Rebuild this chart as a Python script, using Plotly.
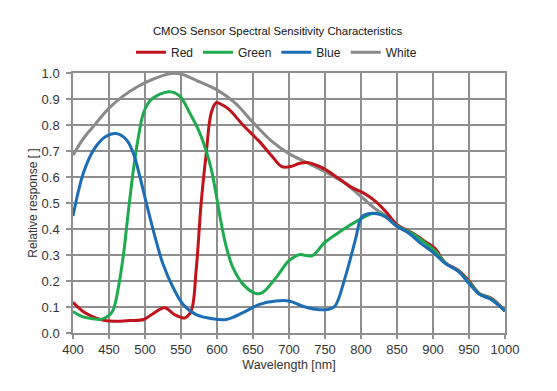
import plotly.graph_objects as go

# ---- data ----
red_wl = [400, 414, 428, 438, 456, 480, 498, 511, 527, 541, 555, 564, 571, 578, 585, 592, 599, 604, 617,
          636, 659, 677, 690, 702, 714, 727, 748, 769, 787, 805, 821, 835, 850, 871, 890, 903, 917, 936,
          950, 965, 980, 1000]
red_v = [0.118, 0.083, 0.062, 0.052, 0.045, 0.048, 0.052, 0.074, 0.097, 0.071, 0.058, 0.084, 0.24, 0.50, 0.69,
         0.847, 0.886, 0.882, 0.859, 0.80, 0.736, 0.678, 0.64, 0.64, 0.652, 0.655, 0.633, 0.594, 0.56, 0.536,
         0.504, 0.465, 0.417, 0.385, 0.35, 0.325, 0.27, 0.24, 0.20, 0.15, 0.135, 0.085]

green_wl = [400, 414, 428, 438, 450, 456, 463, 470, 477, 484, 491, 498, 507, 518, 534, 548, 562, 576, 585,
            592, 599, 606, 613, 622, 636, 654, 663, 682, 700, 714, 732, 750, 773, 796, 815, 829, 850, 871,
            890, 903, 917, 936, 950, 965, 980, 1000]
green_v = [0.083, 0.062, 0.055, 0.052, 0.068, 0.09, 0.175, 0.30, 0.47, 0.63, 0.757, 0.847, 0.893, 0.915, 0.928,
           0.912, 0.847, 0.77, 0.70, 0.63, 0.53, 0.42, 0.33, 0.252, 0.188, 0.152, 0.155, 0.213, 0.278, 0.301,
           0.297, 0.349, 0.394, 0.433, 0.459, 0.455, 0.412, 0.383, 0.345, 0.315, 0.27, 0.237, 0.195, 0.15,
           0.133, 0.085]

blue_wl = [400, 415, 430, 445, 460, 474, 484, 493, 502, 514, 525, 539, 553, 571, 594, 613, 636, 659, 682,
           700, 718, 737, 755, 764, 778, 792, 801, 810, 822, 834, 850, 866, 883, 900, 917, 936, 950, 965, 980,
           1000]
blue_v = [0.45, 0.62, 0.71, 0.755, 0.767, 0.744, 0.69, 0.60, 0.498, 0.369, 0.265, 0.175, 0.11, 0.071,
          0.055, 0.052, 0.078, 0.11, 0.123, 0.123, 0.104, 0.091, 0.091, 0.104, 0.214, 0.356, 0.446, 0.459,
          0.459, 0.447, 0.41, 0.385, 0.345, 0.31, 0.268, 0.235, 0.19, 0.148, 0.13, 0.085]

white_wl = [400, 415, 430, 450, 470, 490, 510, 536, 550, 575, 600, 625, 650, 675, 700, 725,
            750, 778, 801, 821, 835, 850, 871, 890, 903, 917, 936, 950, 965, 980, 1000]
white_v = [0.684, 0.75, 0.80, 0.865, 0.912, 0.948, 0.975, 0.998, 0.996, 0.967, 0.935, 0.885, 0.81, 0.74,
           0.69, 0.655, 0.62, 0.575, 0.523, 0.475, 0.45, 0.415, 0.383, 0.345, 0.315, 0.27, 0.237, 0.195,
           0.15, 0.132, 0.085]

x_ticks = [400, 450, 500, 550, 600, 650, 700, 750, 800, 850, 900, 950, 1000]
y_ticks = [0.0, 0.1, 0.2, 0.3, 0.4, 0.5, 0.6, 0.7, 0.8, 0.9, 1.0]

series = [
    ("White", white_wl, white_v, "#8A8A8A", 4),
    ("Red", red_wl, red_v, "#C0141C", 1),
    ("Green", green_wl, green_v, "#1EAA4E", 2),
    ("Blue", blue_wl, blue_v, "#1C6DB5", 3),
]

fig = go.Figure()
for name, xs, ys, col, rank in series:
    fig.add_trace(go.Scatter(x=xs, y=ys, name=name, mode="lines", legendrank=rank,
                             line=dict(color=col, width=3, shape="spline", smoothing=1.0)))

# page body adds an 8px offset, so the figure is 8px smaller and margins shifted accordingly
W, H = 549, 383
grid = "#8f8f8f"
fig.update_layout(
    width=W, height=H,
    margin=dict(l=65, r=52, t=65, b=58),
    paper_bgcolor="white", plot_bgcolor="white",
    font=dict(family="Liberation Sans, Arial, sans-serif", color="#333333"),
    title=dict(text="CMOS Sensor Spectral Sensitivity Characteristics", x=269.5 / W, xanchor="center",
               xref="container", y=1 - 23 / H, yanchor="middle", yref="container",
               font=dict(size=11.3, color="#111111")),
    legend=dict(orientation="h", x=0.471, xanchor="center", y=1.08, yanchor="middle",
                font=dict(size=12, color="#222222"), bgcolor="rgba(0,0,0,0)",
                itemwidth=30, tracegroupgap=0),
    showlegend=True,
)
fig.update_xaxes(range=[400, 1000], tickvals=x_ticks, showgrid=True, gridcolor=grid, gridwidth=1.5,
                 showline=True, linecolor=grid, linewidth=1.5, mirror=True, automargin=False,
                 ticks="outside", ticklen=4, tickcolor=grid, tickwidth=1.5,
                 tickfont=dict(size=13, color="#333333"), zeroline=False,
                 title=dict(text="Wavelength [nm]", font=dict(size=12.5, color="#333333"), standoff=4))
fig.update_yaxes(range=[0, 1.0], tickvals=y_ticks, tickformat=".1f", showgrid=True, gridcolor=grid,
                 gridwidth=1.5, showline=True, linecolor=grid, linewidth=1.5, mirror=True, automargin=False,
                 ticks="outside", ticklen=5, tickcolor=grid, tickwidth=1.5, ticklabelstandoff=4,
                 tickfont=dict(size=13, color="#333333"), zeroline=False,
                 title=dict(text="Relative response [ ]", font=dict(size=12, color="#333333"), standoff=1))

fig.write_html("out.html")
